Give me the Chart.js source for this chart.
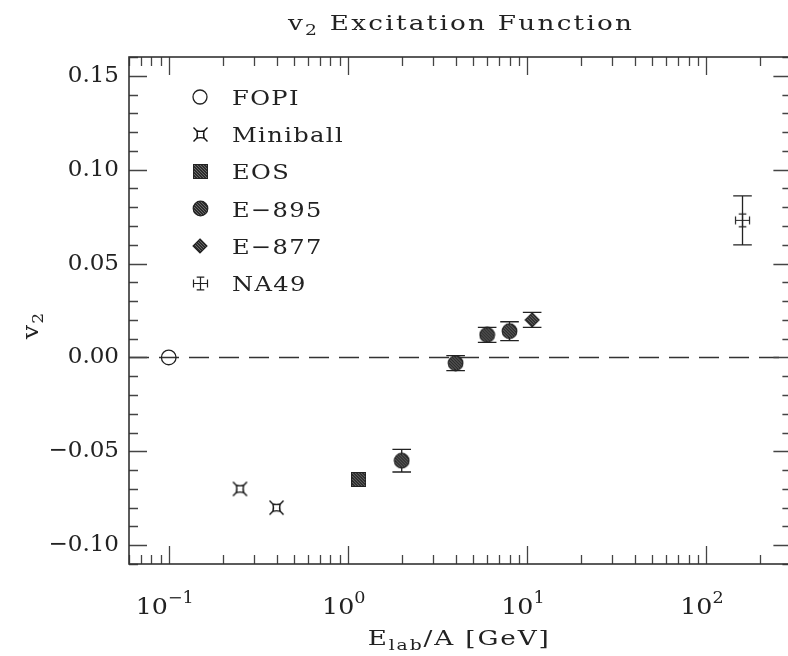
<!DOCTYPE html>
<html>
<head>
<meta charset="utf-8">
<title>v2 Excitation Function</title>
<script src="https://cdn.jsdelivr.net/npm/chart.js@4.4.1/dist/chart.umd.min.js"></script>
<style>
  html, body { margin: 0; padding: 0; background: #fff; overflow: hidden; }
  canvas { display: block; }
</style>
</head>
<body>
<canvas id="v2Chart" width="800" height="656"></canvas>
<script>
// data
const fopiE = [0.1];
const fopiV2 = [0.0];
const miniballE = [0.25, 0.4];
const miniballV2 = [-0.070, -0.080];
const eosE = [1.15];
const eosV2 = [-0.065];
const e895E = [2, 4, 6, 8];
const e895V2 = [-0.055, -0.003, 0.012, 0.014];
const e895Err = [0.006, 0.004, 0.004, 0.005];
const e877E = [10.7];
const e877V2 = [0.020];
const e877Err = [0.004];
const na49E = [160];
const na49V2 = [0.073];
const na49Err = [0.013];

const yTicks = [-0.10, -0.05, 0.00, 0.05, 0.10, 0.15];
const xTickValues = [0.1, 1, 10, 100];
const xTickExps = ['\u22121', '0', '1', '2'];
const legendNames = ['FOPI', 'Miniball', 'EOS', 'E\u2212895', 'E\u2212877', 'NA49'];

const FONT = '"DejaVu Serif", serif';
const INK = '#222';

// --- marker glyphs ---
function makeCanvas(size, draw) {
    const c = document.createElement('canvas');
    c.width = size; c.height = size;
    const g = c.getContext('2d');
    draw(g, size);
    return c;
}

function hatch(g, size) {
    g.fillStyle = '#2c2c2c';
    g.fillRect(0, 0, size, size);
    g.strokeStyle = '#6a6a6a';
    g.lineWidth = 1;
    for (let k = -size; k < size * 2; k += 3) {
        g.beginPath();
        g.moveTo(k, 0);
        g.lineTo(k + size, size);
        g.stroke();
    }
}

const eosMarker = makeCanvas(15, (g, s) => {
    hatch(g, s);
    g.strokeStyle = '#222';
    g.lineWidth = 1;
    g.strokeRect(0.5, 0.5, s - 1, s - 1);
});

const e895Marker = makeCanvas(17, (g, s) => {
    g.save();
    g.beginPath();
    g.arc(s / 2, s / 2, 7.3, 0, Math.PI * 2);
    g.clip();
    hatch(g, s);
    g.restore();
    g.beginPath();
    g.arc(s / 2, s / 2, 7.3, 0, Math.PI * 2);
    g.strokeStyle = '#222';
    g.lineWidth = 1.2;
    g.stroke();
});

const e877Marker = makeCanvas(16, (g, s) => {
    const c = s / 2;
    const path = () => {
        g.beginPath();
        g.moveTo(c, 1); g.lineTo(s - 1, c); g.lineTo(c, s - 1); g.lineTo(1, c);
        g.closePath();
    };
    g.save(); path(); g.clip(); hatch(g, s); g.restore();
    path();
    g.strokeStyle = '#222';
    g.lineWidth = 1.1;
    g.stroke();
});

const miniballMarker = makeCanvas(17, (g, s) => {
    const c = s / 2, h = 3.6, sp = 3.4;
    g.strokeStyle = '#111';
    g.lineWidth = 1.4;
    g.beginPath();
    // slightly pinched square body
    g.moveTo(c - h, c - h);
    g.quadraticCurveTo(c, c - h + 1, c + h, c - h);
    g.quadraticCurveTo(c + h - 1, c, c + h, c + h);
    g.quadraticCurveTo(c, c + h - 1, c - h, c + h);
    g.quadraticCurveTo(c - h + 1, c, c - h, c - h);
    g.stroke();
    [[-1, -1], [1, -1], [1, 1], [-1, 1]].forEach(([dx, dy]) => {
        g.beginPath();
        g.moveTo(c + dx * h, c + dy * h);
        g.lineTo(c + dx * (h + sp), c + dy * (h + sp));
        g.stroke();
    });
});

const na49Marker = makeCanvas(19, (g, s) => {
    const c = s / 2;
    g.strokeStyle = '#222';
    g.lineWidth = 1.2;
    g.beginPath();
    g.moveTo(c, c - 6.3); g.lineTo(c, c + 6.3);
    g.moveTo(c - 7, c); g.lineTo(c + 7, c);
    g.moveTo(c - 3.8, c - 6.3); g.lineTo(c + 3.8, c - 6.3);
    g.moveTo(c - 3.8, c + 6.3); g.lineTo(c + 3.8, c + 6.3);
    g.moveTo(c - 7, c - 4); g.lineTo(c - 7, c + 4);
    g.moveTo(c + 7, c - 4); g.lineTo(c + 7, c + 4);
    g.stroke();
});

const toPoints = (xs, ys) => xs.map((x, i) => ({ x: x, y: ys[i] }));

// --- text helper: rich text, stretched horizontally by sx like the plot font ---
function drawParts(ctx, parts, x0, baseY, opts) {
    const sx = opts.sx || 1, sp = opts.spacing || 0;
    ctx.letterSpacing = sp + 'px';
    let total = 0;
    parts.forEach(p => {
        ctx.font = p.size + 'px ' + FONT;
        p.w = ctx.measureText(p.t).width * sx;
        total += p.w;
    });
    total -= sp * sx;
    let x = opts.align === 'left' ? x0 : x0 - total / 2;
    parts.forEach(p => {
        ctx.font = p.size + 'px ' + FONT;
        ctx.save();
        ctx.translate(x, baseY + (p.dy || 0));
        ctx.scale(sx, 1);
        ctx.fillText(p.t, 0, 0);
        ctx.restore();
        x += p.w;
    });
    ctx.letterSpacing = '0px';
}

// zero line + error bars (under the markers)
const underlay = {
    id: 'underlay',
    beforeDatasetsDraw(chart) {
        const { ctx, chartArea: a, scales: { x, y } } = chart;
        ctx.save();
        ctx.strokeStyle = '#333';
        ctx.lineWidth = 1.4;
        ctx.setLineDash([20, 10]);
        const y0 = y.getPixelForValue(0);
        ctx.beginPath();
        ctx.moveTo(a.left, y0);
        ctx.lineTo(a.right, y0);
        ctx.stroke();
        ctx.setLineDash([]);

        ctx.strokeStyle = INK;
        ctx.lineWidth = 1.3;
        chart.data.datasets.forEach(ds => {
            if (!ds.errorBars) return;
            ds.data.forEach((p, j) => {
                const err = ds.errorBars[j];
                const px = x.getPixelForValue(p.x);
                const top = y.getPixelForValue(p.y + err);
                const bot = y.getPixelForValue(p.y - err);
                ctx.beginPath();
                ctx.moveTo(px, top); ctx.lineTo(px, bot);
                ctx.moveTo(px - 9.3, top); ctx.lineTo(px + 9.3, top);
                ctx.moveTo(px - 9.3, bot); ctx.lineTo(px + 9.3, bot);
                ctx.stroke();
            });
        });
        ctx.restore();
    }
};

// frame, inward ticks, labels, titles, legend
const decor = {
    id: 'decor',
    afterDraw(chart) {
        const { ctx, chartArea: a, scales: { x, y } } = chart;
        ctx.save();

        // ticks
        ctx.strokeStyle = '#444';
        ctx.lineWidth = 1.3;
        ctx.beginPath();
        for (let k = -11; k <= 16; k++) {
            const v = k / 100;
            const py = Math.round(y.getPixelForValue(v)) + 0.5;
            const len = (k % 5 === 0) ? 18 : 9;
            ctx.moveTo(a.left, py); ctx.lineTo(a.left + len, py);
            ctx.moveTo(a.right, py); ctx.lineTo(a.right - len, py);
        }
        for (let d = -2; d <= 2; d++) {
            for (let m = 1; m <= 9; m++) {
                const v = m * Math.pow(10, d);
                if (v < x.min || v > x.max) continue;
                const px = Math.round(x.getPixelForValue(v)) + 0.5;
                const len = (m === 1) ? 18 : 9;
                ctx.moveTo(px, a.bottom); ctx.lineTo(px, a.bottom - len);
                ctx.moveTo(px, a.top); ctx.lineTo(px, a.top + len);
            }
        }
        ctx.stroke();

        // frame
        ctx.strokeStyle = '#333';
        ctx.lineWidth = 1.6;
        ctx.strokeRect(a.left, a.top, a.right - a.left, a.bottom - a.top);

        ctx.fillStyle = INK;
        ctx.textAlign = 'left';
        ctx.textBaseline = 'alphabetic';

        // x tick labels 10^n
        xTickValues.forEach((v, i) => {
            const px = x.getPixelForValue(v);
            drawParts(ctx, [
                { t: '10', size: 23 },
                { t: xTickExps[i], size: 16, dy: -11 }
            ], px - 4, 614, { sx: 1.1 });
        });

        // x axis title
        drawParts(ctx, [
            { t: 'E', size: 21 },
            { t: 'lab', size: 15, dy: 5 },
            { t: '/A [GeV]', size: 21 }
        ], (a.left + a.right) / 2 - 2, 645, { sx: 1.25, spacing: 1.5 });

        // y axis title
        ctx.save();
        ctx.translate(38, 326);
        ctx.rotate(-Math.PI / 2);
        drawParts(ctx, [
            { t: 'v', size: 22 },
            { t: '2', size: 15, dy: 5 }
        ], 0, 0, { sx: 1.15, spacing: 1 });
        ctx.restore();

        // chart title
        drawParts(ctx, [
            { t: 'v', size: 21 },
            { t: '2', size: 15, dy: 5 },
            { t: ' Excitation Function', size: 21 }
        ], 460, 30, { sx: 1.25, spacing: 1.8 });

        // legend
        const markers = [null, miniballMarker, eosMarker, e895Marker, e877Marker, na49Marker];
        legendNames.forEach((name, i) => {
            const ry = 97 + i * 37.2;
            const m = markers[i];
            if (m) {
                ctx.drawImage(m, Math.round(200 - m.width / 2), Math.round(ry - m.height / 2));
            } else {
                ctx.beginPath();
                ctx.arc(200, ry, 7, 0, Math.PI * 2);
                ctx.strokeStyle = INK;
                ctx.lineWidth = 1.3;
                ctx.stroke();
            }
            drawParts(ctx, [{ t: name, size: 21 }], 232, ry + 8, { align: 'left', sx: 1.15, spacing: 1.2 });
        });

        ctx.restore();
    }
};

const chart = new Chart(document.getElementById('v2Chart'), {
    type: 'scatter',
    data: {
        datasets: [
            { label: 'FOPI', data: toPoints(fopiE, fopiV2), pointStyle: 'circle', pointRadius: 7.3,
              backgroundColor: 'rgba(0,0,0,0)', borderColor: INK, borderWidth: 1.3 },
            { label: 'Miniball', data: toPoints(miniballE, miniballV2), pointStyle: miniballMarker },
            { label: 'EOS', data: toPoints(eosE, eosV2), pointStyle: eosMarker },
            { label: 'E-895', data: toPoints(e895E, e895V2), pointStyle: e895Marker, errorBars: e895Err },
            { label: 'E-877', data: toPoints(e877E, e877V2), pointStyle: e877Marker, errorBars: e877Err },
            { label: 'NA49', data: toPoints(na49E, na49V2), pointStyle: na49Marker, errorBars: na49Err }
        ]
    },
    options: {
        responsive: false,
        animation: false,
        devicePixelRatio: 1,
        layout: { padding: { top: 57, right: 4, bottom: 0, left: 0 } },
        plugins: {
            legend: { display: false },
            tooltip: { enabled: false },
            title: { display: false }
        },
        scales: {
            x: {
                type: 'logarithmic',
                min: 0.06,
                max: 300,
                grid: { display: false, drawTicks: false },
                border: { display: false },
                ticks: { display: false },
                afterFit: (s) => { s.height = 92; }
            },
            y: {
                type: 'linear',
                min: -0.11,
                max: 0.16,
                grid: { display: false, drawTicks: false },
                border: { display: false },
                afterBuildTicks: (s) => { s.ticks = yTicks.map(v => ({ value: v })); },
                ticks: {
                    padding: 10,
                    color: INK,
                    font: { family: FONT, size: 23 },
                    callback: (v) => v.toFixed(2).replace('-', '\u2212')
                },
                afterFit: (s) => { s.width = 129; }
            }
        }
    },
    plugins: [underlay, decor]
});
</script>
</body>
</html>
